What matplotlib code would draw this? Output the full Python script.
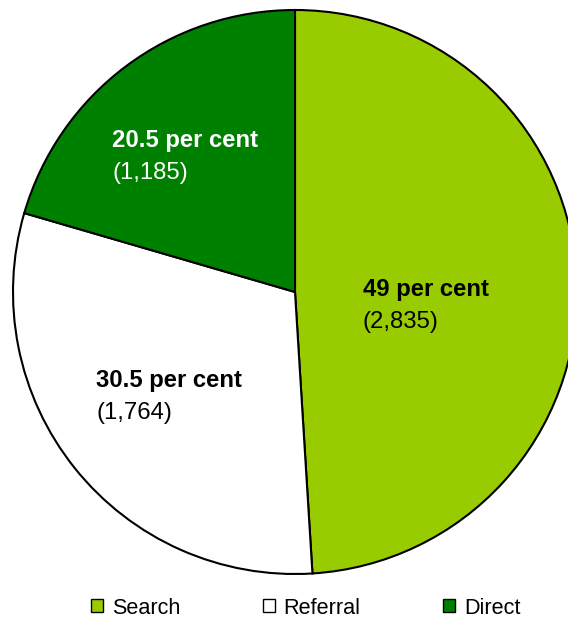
import matplotlib
matplotlib.use("Agg")
import matplotlib.pyplot as plt
from matplotlib.patches import Rectangle

# Traffic sources
sources = ["Search", "Referral", "Direct"]
visits = [2835, 1764, 1185]
colors = ["#99CC00", "#FFFFFF", "#008000"]
label_colors = ["black", "black", "white"]

plt.rcParams["font.family"] = ["Liberation Sans", "DejaVu Sans"]

W, H = 568, 621
fig = plt.figure(figsize=(W / 100, H / 100), dpi=100)
ax = fig.add_axes([0, 0, 1, 1])

# pie geometry in pixel units (y measured from the bottom)
cx, cy, r = 295, H - 292, 282
ax.pie(visits, colors=colors, startangle=90, counterclock=False,
       center=(cx, cy), radius=r,
       wedgeprops=dict(edgecolor="black", linewidth=1.5))
ax.set_xlim(0, W)
ax.set_ylim(0, H)
ax.set_aspect("equal")
ax.axis("off")

# label anchors (left edge, baseline of first line) in pixels from top-left
label_pos = [(363, 296), (96, 387), (112, 147)]
total = sum(visits)
fs = 17.2
for v, (lx, ly), tc in zip(visits, label_pos, label_colors):
    pct = round(v / total * 100, 1)
    ax.text(lx, H - ly, f"{pct:g} per cent", fontsize=fs, fontweight="bold",
            color=tc, ha="left", va="baseline")
    ax.text(lx, H - ly - 32, f"({v:,})", fontsize=fs,
            color=tc, ha="left", va="baseline")

handles = [Rectangle((0, 0), 1, 1, facecolor=c, edgecolor="black", linewidth=1.0)
           for c in colors]
leg = fig.legend(handles, sources, loc="center left",
                 bbox_to_anchor=(91 / W, 1 - 608 / H), ncol=3, frameon=False,
                 fontsize=15.6, handlelength=0.55, handleheight=0.55,
                 handletextpad=0.42, columnspacing=3.8, borderpad=0,
                 borderaxespad=0)

fig.savefig("out.png", dpi=100, facecolor="white")
